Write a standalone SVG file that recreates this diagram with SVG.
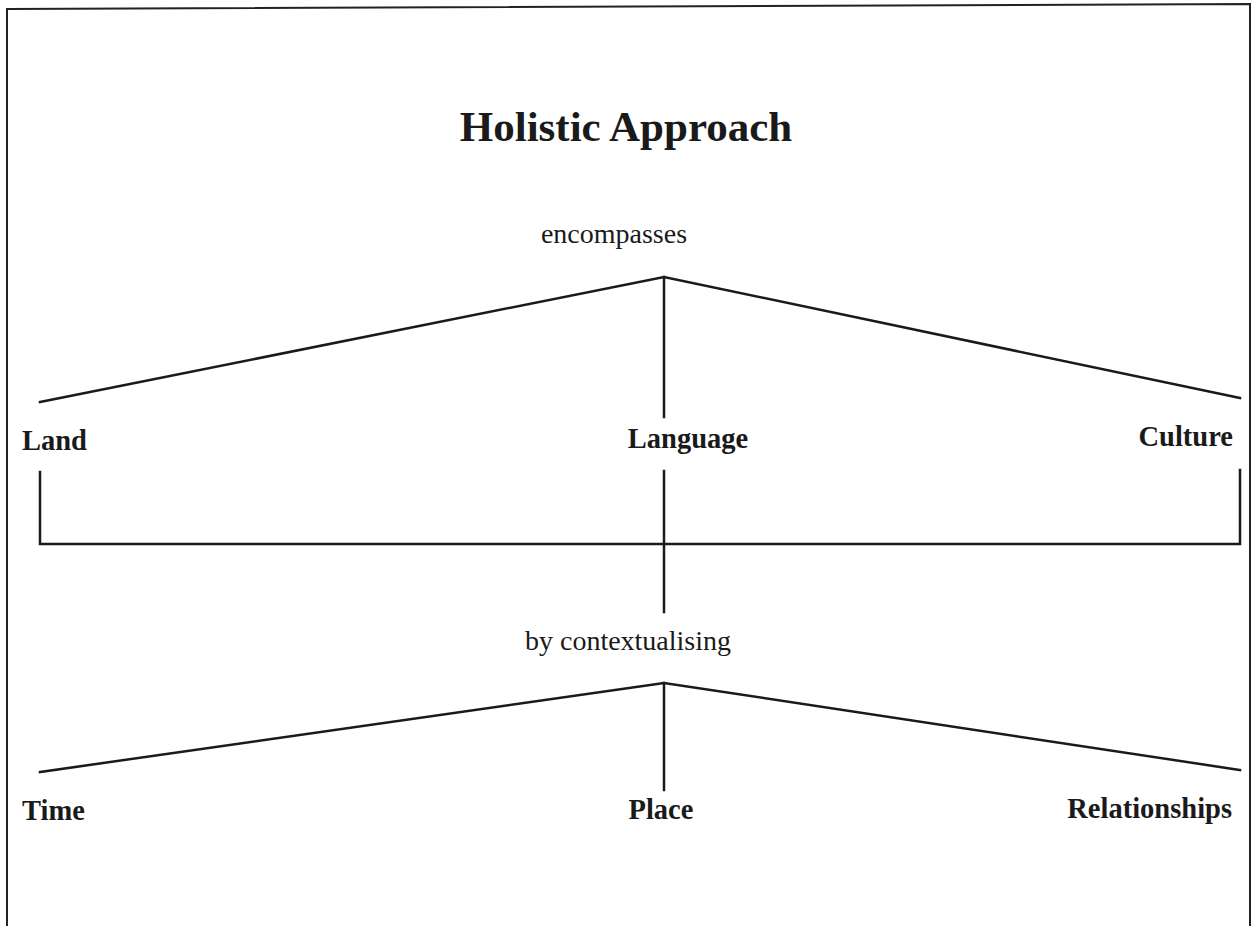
<svg xmlns="http://www.w3.org/2000/svg" width="1253" height="926" viewBox="0 0 1253 926">
<style>
.frame{fill:none;stroke:#222;stroke-width:2}
.ln{fill:none;stroke:#1a1a1a;stroke-width:2.5;stroke-linecap:square}
.title{font-family:"Liberation Serif",serif;font-weight:bold;font-size:43px;fill:#1a1a1a;text-anchor:middle}
.lbl{font-family:"Liberation Serif",serif;font-weight:bold;font-size:28.5px;fill:#1a1a1a}
.rel{font-family:"Liberation Serif",serif;font-size:28px;fill:#1a1a1a;text-anchor:middle}
</style>
<rect width="1253" height="926" fill="#fff"/>
<polyline class="frame" points="7,926 7,9 1250,4 1250,926"/>
<g id="title"><text class="title" x="626" y="141">Holistic Approach</text></g>
<g id="encompasses"><text class="rel" x="614" y="243">encompasses</text></g>
<g id="land"><text class="lbl" x="22" y="450">Land</text></g>
<g id="language"><text class="lbl" x="688" y="448" text-anchor="middle">Language</text></g>
<g id="culture"><text class="lbl" x="1233" y="446" text-anchor="end">Culture</text></g>
<g id="contextualising"><text class="rel" x="628" y="650">by contextualising</text></g>
<g id="time"><text class="lbl" x="22" y="820">Time</text></g>
<g id="place"><text class="lbl" x="661" y="819" text-anchor="middle">Place</text></g>
<g id="relationships"><text class="lbl" x="1232" y="818" text-anchor="end">Relationships</text></g>
<g id="connectors">
<polyline class="ln" points="40,402 664,277 1240,398"/>
<line class="ln" x1="664" y1="277" x2="664" y2="417"/>
<polyline class="ln" points="40,472 40,544 1240,544 1240,470"/>
<line class="ln" x1="664" y1="471" x2="664" y2="612"/>
<polyline class="ln" points="40,772 664,683 1240,770"/>
<line class="ln" x1="664" y1="683" x2="664" y2="790"/>
</g>
</svg>
